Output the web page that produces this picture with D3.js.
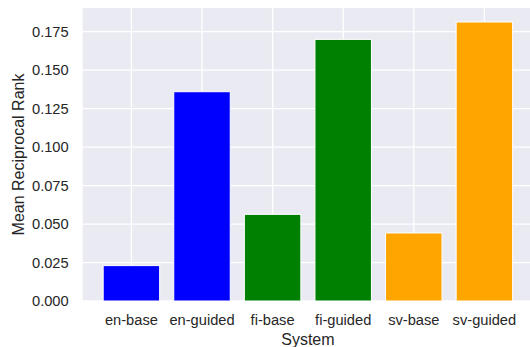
<!DOCTYPE html>
<html><head><meta charset="utf-8">
<script src="https://cdn.jsdelivr.net/npm/d3@7"></script>
<style>html,body{margin:0;padding:0;background:#fff;}svg{display:block;}</style>
</head><body>
<script>
const categories = ["en-base","en-guided","fi-base","fi-guided","sv-base","sv-guided"];
const values = [0.0230, 0.1360, 0.0563, 0.1700, 0.0442, 0.1813];
const barColors = ["#0000FF","#0000FF","#008000","#008000","#FFA500","#FFA500"];
const yTicks = [0, 0.025, 0.05, 0.075, 0.1, 0.125, 0.15, 0.175];

(function(){
const W = 530, H = 347;
const svg = d3.select("body").append("svg").attr("width", W).attr("height", H);
const font = "'Liberation Sans', Arial, sans-serif";

const pL = 82.7, pR = 533.1, pT = 8, pB = 301;
const x = d3.scaleLinear().domain([-0.69, 5.69]).range([pL, pR]);
const y = d3.scaleLinear().domain([0, 0.1904]).range([pB, pT]);

svg.append("rect").attr("x", pL).attr("y", pT).attr("width", pR - pL).attr("height", pB - pT).attr("fill", "#EAEAF2");

// grid
svg.append("g").selectAll("line").data(yTicks).join("line")
  .attr("x1", pL).attr("x2", pR).attr("y1", d => y(d)).attr("y2", d => y(d))
  .attr("stroke", "#fff").attr("stroke-width", 1.3);
svg.append("g").selectAll("line").data(categories).join("line")
  .attr("x1", (d,i) => x(i)).attr("x2", (d,i) => x(i)).attr("y1", pT).attr("y2", pB)
  .attr("stroke", "#fff").attr("stroke-width", 1.3);

// bars
const bw = x(0.8) - x(0);
svg.append("g").selectAll("rect").data(values).join("rect")
  .attr("x", (d,i) => x(i) - bw/2).attr("width", bw)
  .attr("y", d => y(d)).attr("height", d => y(0) - y(d))
  .attr("fill", (d,i) => barColors[i]).attr("stroke", "#fff").attr("stroke-width", 1);

// y ticks
svg.append("g").selectAll("text").data(yTicks).join("text")
  .attr("x", pL - 14).attr("y", d => y(d)).attr("dy", "0.36em")
  .attr("text-anchor", "end").attr("font-family", font).attr("font-size", 14.67).attr("fill", "#262626")
  .text(d => d3.format(".3f")(d));

// x ticks
svg.append("g").selectAll("text").data(categories).join("text")
  .attr("x", (d,i) => x(i)).attr("y", 324.5)
  .attr("text-anchor", "middle").attr("font-family", font).attr("font-size", 14.67).attr("fill", "#262626")
  .text(d => d);

// axis labels
svg.append("text").attr("x", (pL + pR) / 2).attr("y", 345)
  .attr("text-anchor", "middle").attr("font-family", font).attr("font-size", 16).attr("fill", "#262626")
  .text("System");
svg.append("text").attr("transform", `translate(23.5,${(pT + pB) / 2}) rotate(-90)`)
  .attr("text-anchor", "middle").attr("font-family", font).attr("font-size", 16).attr("fill", "#262626")
  .text("Mean Reciprocal Rank");
})();
</script>
</body></html>
